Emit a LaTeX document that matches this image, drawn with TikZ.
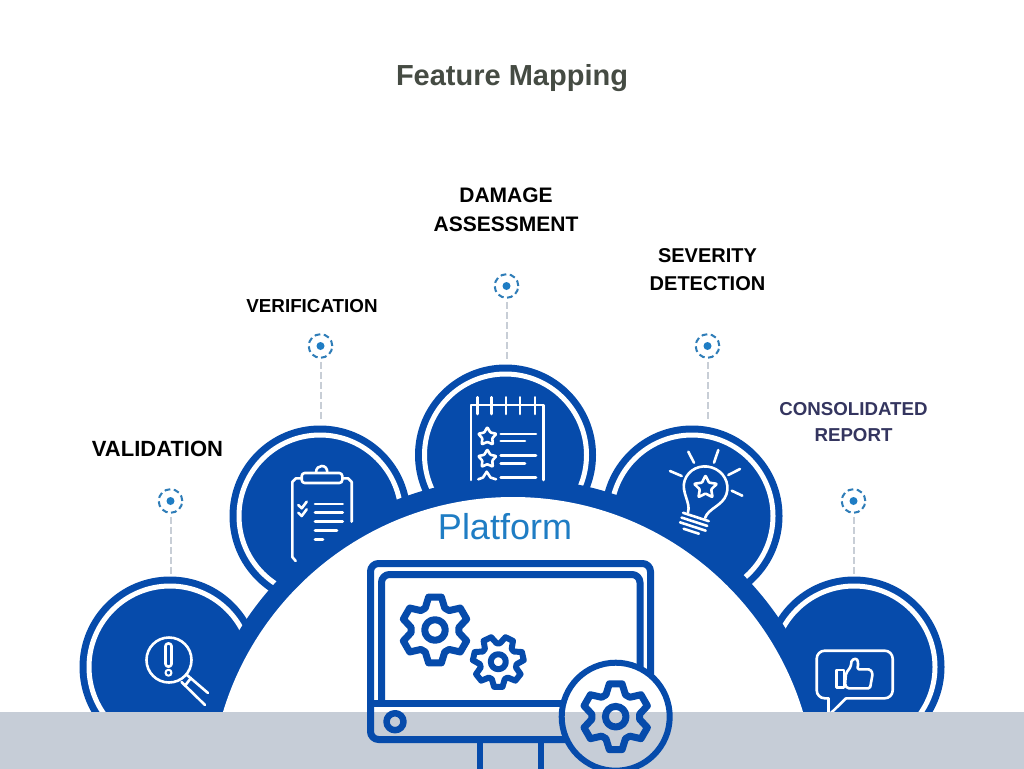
\documentclass[tikz,border=0pt]{standalone}
\usepackage{fontspec}
\setmainfont{Liberation Sans}
\definecolor{deepblue}{HTML}{064BAB}
\definecolor{skyblue}{HTML}{1F7DC4}
\definecolor{pinblue}{HTML}{2F7DB8}
\definecolor{bandgrey}{HTML}{C6CDD7}
\definecolor{linkgrey}{HTML}{C8CED6}
\definecolor{titlegrey}{HTML}{454B43}
\definecolor{reportblue}{HTML}{34355F}
\tikzstyle{disk} = [circle, fill=deepblue, inner sep=0pt, minimum size=181pt]
\tikzstyle{whitering} = [circle, draw=white, line width=5pt, inner sep=0pt, minimum size=162pt]
\tikzstyle{pinring} = [circle, draw=pinblue, line width=2pt, dash pattern=on 5.8pt off 3.5pt, inner sep=0pt, minimum size=23.6pt]
\tikzstyle{pindot} = [circle, fill=skyblue, inner sep=0pt, minimum size=8pt]
\tikzstyle{link} = [draw=linkgrey, line width=2pt, dash pattern=on 7pt off 3pt, shorten <=3pt, shorten >=2pt]
\tikzstyle{caption} = [text=black, align=center, anchor=base, inner sep=0pt]
\tikzstyle{icon} = [draw=white, line width=2.6pt, line join=round, line cap=round]
\tikzstyle{frame} = [draw=deepblue, line width=7pt, line join=round]
\tikzset{
  pics/cog/.style n args={5}{code={
    \draw (#5-144/#4:#2) \foreach \i in {1,...,#4} {
      -- (#5+\i*360/#4-360/#4-66/#4:#1) -- (#5+\i*360/#4-360/#4+66/#4:#1)
      -- (#5+\i*360/#4-360/#4+144/#4:#2) -- (#5+\i*360/#4-144/#4:#2)
    } -- cycle;
    \draw (0,0) circle (#3);
  }},
  pics/star/.style n args={2}{code={
    \draw [rounded corners=0.8pt] (-90:#1) -- (-54:#2) -- (-18:#1) -- (18:#2) -- (54:#1)
      -- (90:#2) -- (126:#1) -- (162:#2) -- (198:#1) -- (234:#2) -- cycle;
  }}
}

\begin{document}
\begin{tikzpicture}[x=1pt, y=-1pt]

\useasboundingbox (0,0) rectangle (1024,768);
\clip (0,0) rectangle (1024,772);
\fill [white] (0,0) rectangle (1024,772);

\node (title) [caption, text=titlegrey, font={\bfseries\fontsize{29}{32}\selectfont}] at (512,85.5) {Feature Mapping};

\node (valdisk) [disk] at (170,667) {};
\node (verdisk) [disk] at (320,516) {};
\node (damdisk) [disk] at (505.5,455) {};
\node (sevdisk) [disk] at (692,516) {};
\node (repdisk) [disk] at (854,667) {};

\node (valring) [whitering] at (valdisk) {};
\node (verring) [whitering] at (verdisk) {};
\node (damring) [whitering] at (damdisk) {};
\node (sevring) [whitering] at (sevdisk) {};
\node (repring) [whitering] at (repdisk) {};

\node (valpin) [pinring] at (170.5,501) {};
\node (verpin) [pinring] at (320.5,346) {};
\node (dampin) [pinring] at (506.5,286) {};
\node (sevpin) [pinring] at (707.5,346) {};
\node (reppin) [pinring] at (853.5,501) {};

\node (valdot) [pindot] at (valpin) {};
\node (verdot) [pindot] at (verpin) {};
\node (damdot) [pindot] at (dampin) {};
\node (sevdot) [pindot] at (sevpin) {};
\node (repdot) [pindot] at (reppin) {};

\draw [link] (valpin) -- (valpin |- valdisk.north);
\draw [link, shorten >=6pt] (verpin) -- (verpin |- verdisk.north);
\draw [link, shorten >=4pt] (dampin) -- (dampin |- damdisk.north);
\draw [link, shorten >=6pt] (sevpin) -- (sevpin |- sevdisk.north);
\draw [link] (reppin) -- (reppin |- repdisk.north);

\node (vallabel) [caption, font={\bfseries\fontsize{22}{29}\selectfont}] at (157.5,456.5) {VALIDATION};
\node (verlabel) [caption, font={\bfseries\fontsize{18.8}{29}\selectfont}] at (312,312.5) {VERIFICATION};
\node (damlabel) [caption, font={\bfseries\fontsize{21}{29}\selectfont}] at (506,231.5) {DAMAGE\\ASSESSMENT};
\node (sevlabel) [caption, font={\bfseries\fontsize{20}{28}\selectfont}] at (707.5,290.5) {SEVERITY\\DETECTION};
\node (replabel) [caption, text=reportblue, font={\bfseries\fontsize{18.7}{26}\selectfont}] at (853.5,441.5) {CONSOLIDATED\\REPORT};

\node (arcouter) [circle, fill=deepblue, inner sep=0pt, minimum size=644pt] at (513,800) {};
\node (arcinner) [circle, fill=white, inner sep=0pt, minimum size=606pt] at (513,800) {};

\node (platform) [caption, text=skyblue, font={\fontsize{36}{38}\selectfont}] at (505,539) {Platform};

% magnifier
\draw [icon] (169,660) circle (22.5);
\draw [icon, rounded corners=2.5pt] (165.5,643.5) rectangle (171.5,666.5);
\draw [icon, line width=2pt] (168.5,672.7) circle (3);
\draw [icon] (187,675) -- (208,693);
\draw [icon] (181.5,682) -- (205,705);
\draw [icon] (191,678) -- (185.5,685);

% clipboard
\draw [icon] (301.7,478.3) -- (296,478.3) -- ++(-3.7,3.7) -- (292.3,557) -- (295.7,561);
\draw [icon] (342.3,478.3) -- (348,478.3) -- ++(3.7,3.7) -- (351.7,521.7);
\draw [icon, rounded corners=3pt] (301.7,473) rectangle (342.3,483);
\draw [icon] (316,472.7) .. controls (316,468) and (319,466) .. (321.7,466) .. controls (325,466) and (327.3,468) .. (327.3,472.7);
\draw [icon] (298.3,505) -- (301.7,508.3) -- (306.7,501.7);
\draw [icon] (298.3,512.7) -- (301.7,516) -- (306.7,509.3);
\draw [icon] (315,504) -- (342.7,504);
\draw [icon] (315,512.7) -- (342.7,512.7);
\draw [icon] (315,521.7) -- (342.7,521.7);
\draw [icon] (315,530.5) -- (337,530.5);
\draw [icon] (315,539.3) -- (323,539.3);

% notepad
\draw [icon] (471,480) -- (471,405) -- (543.3,405) -- (543.3,480);
\draw [icon] (477.7,397.3) -- (477.7,414);
\draw [icon] (491.7,397.3) -- (491.7,414);
\draw [icon] (506,397.3) -- (506,414);
\draw [icon] (520,397.3) -- (520,414);
\draw [icon] (535,397.3) -- (535,414);
\pic [icon] at (487.3,436.7) {star={9.5}{5.2}};
\pic [icon] at (487.3,459) {star={9.5}{5.2}};
\draw [icon] (478.3,479.3) -- (483,477.5) -- (486.7,471.7) -- (490.5,477.5) -- (496,479.3);
\draw [icon] (500.7,434) -- (536,434);
\draw [icon] (500.7,441) -- (525,441);
\draw [icon] (500.7,455.7) -- (536,455.7);
\draw [icon] (500.7,463.3) -- (525,463.3);
\draw [icon] (500.7,477.3) -- (536,477.3);

% bulb
\begin{scope}[shift={(705.5,487.5)}, rotate=-18]
\draw [icon] (-9,29) .. controls (-9,19) and (-22,12) .. (-22,0) .. controls (-22,-12) and (-12,-21) .. (0,-21) .. controls (12,-21) and (22,-12) .. (22,0) .. controls (22,12) and (9,19) .. (9,29);
\draw [icon] (-13.5,31) -- (13.5,31);
\draw [icon] (-13.5,36) -- (13.5,36);
\draw [icon] (-13.5,41) -- (13.5,41);
\draw [icon] (-8,46) -- (8,46);
\pic [icon] at (0,0) {star={12}{6}};
\end{scope}
\draw [icon] (688.3,451.7) -- (694,462.7);
\draw [icon] (718.3,450) -- (714,462.7);
\draw [icon] (670,471) -- (681.7,476);
\draw [icon] (740,469) -- (728.3,475);
\draw [icon] (731.7,490.7) -- (742.3,495.7);

% thumb
\draw [icon, rounded corners=8pt] (846,698.3) -- (892.7,698.3) -- (892.7,650.7) -- (816.7,650.7) -- (816.7,698.3) -- (828.3,698.3);
\draw [icon] (828.3,698.3) -- (828.3,714);
\draw [icon] (846,698.3) -- (830,714);
\draw [icon] (836.7,670) rectangle (844,687.3);
\draw [icon, rounded corners=1.5pt] (846,673.3) -- (850.7,666.7) -- (851.7,660) -- (856.7,658.3) -- (858.3,663.3) -- (857.3,669.3) -- (870,669.3) -- (872.7,673.3) -- (870,688.3) -- (847.3,688.3) -- (845,685) -- cycle;

\fill [bandgrey] (0,712) rectangle (1024,772);

\draw [frame, rounded corners=8pt] (370.5,703) -- (370.5,563.5) -- (650.5,563.5) -- (650.5,739.5) -- (370.5,739.5) -- cycle;
\draw [frame, rounded corners=8pt] (381.5,703) -- (381.5,574.5) -- (640,574.5) -- (640,703);
\draw [frame] (370.5,703) -- (650.5,703);
\draw [frame, line width=6.5pt] (395,721.7) circle (8.5);
\draw [frame, line width=6pt] (479.5,743) -- (479.5,772);
\draw [frame, line width=6pt] (540.7,743) -- (540.7,772);
\pic [frame] at (435,630) {cog={33.5}{24}{10.3}{6}{90}};
\pic [frame, line width=6pt] at (498.3,661.7) {cog={25.5}{18.5}{7.5}{7}{90}};

\node (cogdisk) [circle, fill=white, inner sep=0pt, minimum size=108pt] at (615.7,716.7) {};
\begin{scope}
\clip (cogdisk.center) circle (54);
\fill [bandgrey] (0,712) rectangle (1024,772);
\end{scope}
\node (cogring) [circle, draw=deepblue, line width=6pt, inner sep=0pt, minimum size=108pt] at (cogdisk) {};
\pic [frame] at (cogdisk) {cog={33.5}{24}{10.3}{6}{90}};

\end{tikzpicture}
\end{document}
